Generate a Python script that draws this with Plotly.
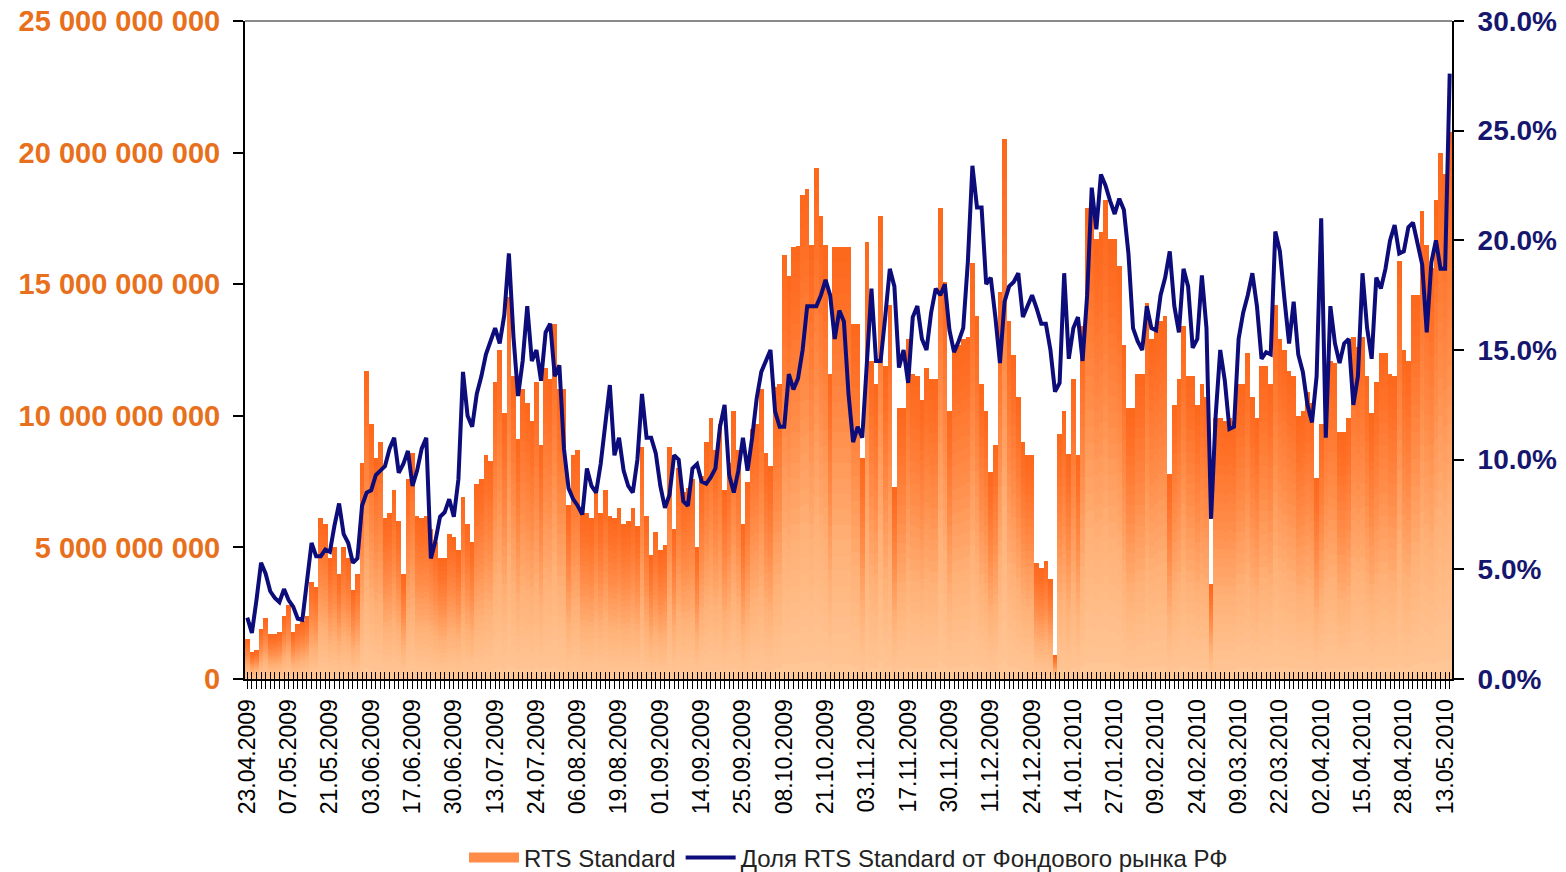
import plotly.graph_objects as go
import pandas as pd

# ---------------- categories: RTS trading days ----------------
START, END = "2009-04-23", "2010-05-14"
HOLIDAYS = ["2009-05-01", "2009-05-11", "2009-06-12", "2009-11-04",
            "2010-01-01", "2010-01-04", "2010-01-05", "2010-01-06", "2010-01-07", "2010-01-08",
            "2010-02-22", "2010-02-23", "2010-03-08", "2010-05-03", "2010-05-10"]
EXTRA_DAYS = ["2010-02-27"]
days = pd.bdate_range(START, END)
days = days[~days.isin(pd.to_datetime(HOLIDAYS))].union(pd.to_datetime(EXTRA_DAYS))
dates = [d.strftime("%d.%m.%Y") for d in days]

# ---------------- RTS Standard turnover, bn RUB ----------------
volume_bn = [
    1.5, 1.0, 1.1, 1.9, 2.3, 1.7, 1.7, 1.8, 2.4,
    2.8, 1.8, 2.1, 2.2, 2.4, 3.7, 3.5, 6.1, 5.9,
    4.6, 5.0, 4.0, 5.0, 4.6, 3.4, 4.0, 8.2, 11.7,
    9.7, 8.4, 9.0, 6.1, 6.3, 7.2, 6.0, 4.0, 7.6,
    8.6, 6.2, 6.1, 6.2, 5.7, 5.2, 4.6, 4.6, 5.5,
    5.4, 4.9, 6.9, 5.9, 5.2, 7.4, 7.6, 8.5, 8.3,
    11.3, 12.5, 10.1, 14.5, 11.5, 9.1, 11.0, 10.5, 9.8,
    11.3, 8.9, 11.8, 11.4, 13.5, 11.0, 11.0, 6.6, 8.5,
    8.7, 6.3, 6.3, 6.1, 7.2, 6.3, 7.2, 6.2, 6.1,
    6.5, 5.9, 6.0, 6.5, 5.8, 8.8, 6.2, 4.7, 5.6,
    4.9, 5.1, 8.8, 5.7, 8.0, 7.1, 7.25, 7.6, 5.0,
    7.7, 9.0, 9.9, 8.7, 9.7, 7.2, 8.2, 10.2, 8.7,
    5.9, 7.5, 9.5, 9.7, 11.0, 8.6, 8.1, 11.1, 11.2,
    16.1, 15.3, 16.4, 16.45, 18.4, 18.6, 16.5, 19.4, 17.6,
    16.5, 11.6, 16.4, 16.4, 16.4, 16.4, 13.5, 13.5, 8.4,
    16.6, 12.1, 11.2, 17.6, 11.9, 14.2, 7.3, 10.3, 10.3,
    12.9, 11.6, 11.5, 10.6, 11.8, 11.4, 11.4, 17.9, 15.1,
    10.2, 12.6, 12.7, 12.9, 13.0, 15.8, 13.8, 11.2, 10.2,
    7.85, 8.9, 14.7, 20.5, 13.6, 12.3, 10.7, 9.0, 8.5,
    8.5, 4.4, 4.2, 4.5, 3.8, 0.9, 9.3, 10.2, 8.55,
    11.4, 8.5, 13.4, 17.9, 17.9, 16.7, 17.0, 18.2, 16.7,
    16.7, 15.7, 12.7, 10.3, 10.3, 11.6, 11.6, 14.3, 12.9,
    13.3, 13.6, 13.8, 7.8, 10.4, 11.4, 13.4, 11.5, 11.5,
    10.4, 11.2, 10.7, 3.6, 9.9, 9.9, 9.8, 9.9, 9.8,
    11.2, 11.2, 12.4, 10.7, 9.9, 11.9, 11.9, 11.2, 14.2,
    12.9, 12.5, 11.7, 11.5, 10.0, 10.2, 10.9, 10.5, 7.65,
    9.7, 11.6, 12.1, 12.0, 9.4, 9.4, 9.9, 13.0, 12.6,
    13.0, 11.5, 10.1, 11.3, 12.4, 12.4, 11.6, 11.5, 15.9,
    12.5, 12.1, 14.6, 14.6, 17.8, 16.5, 15.6, 18.2, 20.0,
    19.2, 20.8,
]

# ---------------- share of RTS Standard in RF stock market, % ----------------
share_pct = [
    2.8, 2.1, 3.6, 5.3, 4.8, 4.0, 3.7, 3.5, 4.1,
    3.6, 3.3, 2.75, 2.7, 4.6, 6.2, 5.6, 5.6, 5.9,
    5.8, 7.0, 8.0, 6.6, 6.2, 5.3, 5.5, 7.9, 8.5,
    8.6, 9.3, 9.5, 9.7, 10.5, 11.0, 9.4, 9.8, 10.4,
    8.8, 9.5, 10.5, 11.0, 5.5, 6.3, 7.4, 7.6, 8.2,
    7.4, 9.1, 14.0, 12.0, 11.5, 13.0, 13.8, 14.8, 15.4,
    16.0, 15.3, 16.6, 19.4, 15.6, 12.9, 14.5, 17.0, 14.5,
    15.0, 13.6, 15.8, 16.2, 13.8, 14.3, 10.5, 8.7, 8.2,
    7.9, 7.5, 9.6, 8.8, 8.5, 9.8, 11.5, 13.4, 10.2,
    11.0, 9.5, 8.8, 8.5, 10.0, 13.0, 11.0, 11.0, 10.3,
    8.8, 7.8, 8.4, 10.2, 10.0, 8.1, 7.9, 9.6, 9.8,
    9.0, 8.9, 9.2, 9.6, 11.5, 12.5, 9.3, 8.5, 9.5,
    11.0, 9.5, 11.0, 12.8, 14.0, 14.5, 15.0, 12.2, 11.5,
    11.5, 13.9, 13.2, 13.7, 15.0, 17.0, 17.0, 17.0, 17.5,
    18.2, 17.5, 15.5, 16.8, 16.3, 13.0, 10.8, 11.5, 11.0,
    14.4, 17.8, 14.5, 14.5, 16.5, 18.7, 17.9, 14.2, 15.0,
    13.5, 16.5, 17.0, 15.5, 15.0, 16.7, 17.8, 17.5, 18.0,
    15.9, 14.9, 15.4, 16.0, 19.0, 23.4, 21.5, 21.5, 18.0,
    18.3, 16.5, 14.4, 17.2, 17.9, 18.1, 18.5, 16.5, 17.0,
    17.5, 16.9, 16.2, 16.2, 15.0, 13.1, 13.5, 18.5, 14.6,
    16.0, 16.5, 14.5, 17.5, 22.4, 20.5, 23.0, 22.5, 21.8,
    21.2, 21.9, 21.4, 19.4, 16.0, 15.4, 15.0, 17.0, 16.0,
    15.9, 17.5, 18.3, 19.5, 17.0, 15.8, 18.7, 17.9, 15.1,
    15.5, 18.4, 16.0, 7.3, 12.0, 15.0, 13.6, 11.4, 11.5,
    15.5, 16.7, 17.5, 18.5, 17.0, 14.6, 14.9, 14.8, 20.4,
    19.5, 17.3, 15.3, 17.2, 14.8, 14.0, 12.5, 11.7, 13.8,
    21.0, 11.0, 17.0, 15.3, 14.4, 15.3, 15.5, 12.5, 13.8,
    18.5, 16.0, 14.6, 18.3, 17.8, 18.7, 20.0, 20.7, 19.4,
    19.5, 20.6, 20.8, 19.9, 18.9, 15.8, 19.0, 20.0, 18.7,
    18.7, 27.6,
]

LEFT_TICKS = [0, 5e9, 10e9, 15e9, 20e9, 25e9]
RIGHT_TICKS = [0, 5, 10, 15, 20, 25, 30]
LABEL_STEP = 9
SERIES_BAR = "RTS Standard"
SERIES_LINE = "Доля RTS Standard от Фондового рынка РФ"

assert len(dates) == len(volume_bn) == len(share_pct) == 263, (len(dates), len(volume_bn), len(share_pct))

# ---------------- styling ----------------
FONT = "Liberation Sans, Arial, sans-serif"
ORANGE_TXT = "#E8701C"
NAVY_TXT = "#16166E"
NAVY_LINE = "#0C0C7A"
STOPS = [(0.0, (255, 199, 152)), (0.3, (255, 178, 120)), (0.6, (255, 140, 72)),
         (0.85, (255, 113, 40)), (1.0, (252, 104, 28))]


def grad(f):
    for (f0, c0), (f1, c1) in zip(STOPS[:-1], STOPS[1:]):
        if f <= f1:
            t = (f - f0) / (f1 - f0)
            return "rgb(%d,%d,%d)" % tuple(round(a + (b - a) * t) for a, b in zip(c0, c1))
    return "rgb(%d,%d,%d)" % STOPS[-1][1]


NB = 28
fig = go.Figure()
# legend-only proxy for the gradient bars
fig.add_trace(go.Scatter(x=[None], y=[None], mode="lines", name=SERIES_BAR,
                         line=dict(color="rgb(255,140,72)", width=15), hoverinfo="skip"))
band_vals = [v * 1e9 / NB for v in volume_bn]
for b in range(NB):
    fig.add_trace(go.Bar(x=dates, y=band_vals, marker=dict(color=grad((b + 0.5) / NB), line=dict(width=0)),
                         showlegend=False, hoverinfo="skip", name=SERIES_BAR))
fig.add_trace(go.Scatter(x=dates, y=share_pct, yaxis="y2", mode="lines", name=SERIES_LINE,
                         line=dict(color=NAVY_LINE, width=4)))
# empty trace carrying the inner half of the tick comb
fig.add_trace(go.Scatter(x=[], y=[], xaxis="x2", yaxis="y", showlegend=False, hoverinfo="skip"))

ticktext = [d if i % LABEL_STEP == 0 else "" for i, d in enumerate(dates)]
n = len(dates)

fig.update_layout(
    width=1566, height=872,
    margin=dict(l=245, r=114, t=21, b=193, autoexpand=False),
    paper_bgcolor="white", plot_bgcolor="white",
    barmode="stack", bargap=0,
    font=dict(family=FONT, color="#111"),
    showlegend=True,
    xaxis=dict(type="category", categoryorder="array", categoryarray=dates, range=[-0.5, n - 0.5],
               tickmode="array", tickvals=dates, ticktext=ticktext, tickangle=-90,
               ticks="outside", ticklen=8, tickwidth=1, tickcolor="black", automargin=False,
               showline=True, linecolor="black", linewidth=2, showgrid=False, zeroline=False,
               tickfont=dict(family=FONT, size=23, color="black"), ticklabelstandoff=1),
    xaxis2=dict(overlaying="x", anchor="y", side="bottom", range=[-0.5, n - 0.5], automargin=False,
                tickmode="linear", tick0=0, dtick=1, ticks="inside", ticklen=7, tickwidth=1,
                tickcolor="black", showticklabels=False, showline=False, showgrid=False, zeroline=False),
    yaxis=dict(range=[0, 25e9], tickmode="array", tickvals=LEFT_TICKS, automargin=False,
               ticktext=["{:,}".format(int(v)).replace(",", " ") for v in LEFT_TICKS],
               ticks="outside", ticklen=10, tickwidth=1.5, tickcolor="black",
               showline=True, linecolor="black", linewidth=2, showgrid=False, zeroline=False,
               tickfont=dict(family=FONT, size=29, color=ORANGE_TXT, weight="bold"), ticklabelstandoff=7),
    yaxis2=dict(overlaying="y", side="right", range=[0, 30], tickmode="array", tickvals=RIGHT_TICKS,
                ticktext=["%.1f%%" % v for v in RIGHT_TICKS], automargin=False,
                ticks="outside", ticklen=10, tickwidth=1.5, tickcolor="black",
                showline=True, linecolor="black", linewidth=2, showgrid=False, zeroline=False,
                tickfont=dict(family=FONT, size=28, color=NAVY_TXT, weight="bold"), ticklabelstandoff=8),
    legend=dict(orientation="h", xref="paper", x=0.5, xanchor="center",
                yref="container", y=1 - 858 / 872, yanchor="middle", traceorder="normal",
                itemwidth=50,
                font=dict(family=FONT, size=24, color="#222"), bgcolor="rgba(0,0,0,0)"),
    shapes=[dict(type="line", xref="paper", yref="paper", x0=0, x1=1, y0=1, y1=1,
                 line=dict(color="#8a8a8a", width=2))],
)

fig.write_html("out.html", config={"displayModeBar": False},
               post_script="document.body.style.margin='0px';document.body.style.overflow='hidden';")
